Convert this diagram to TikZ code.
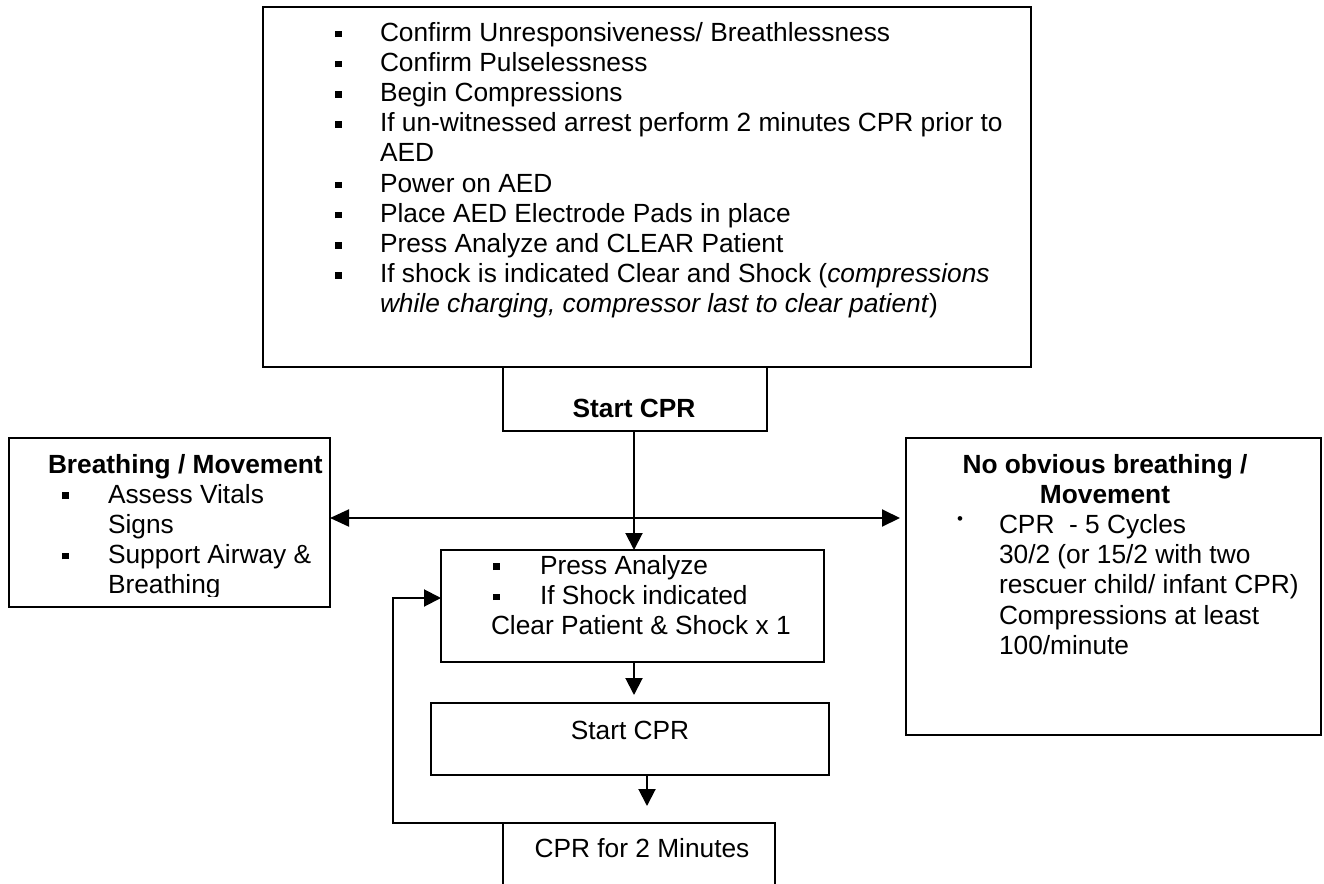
\documentclass[tikz,border=0pt]{standalone}
\usepackage{fontspec}
\setmainfont{Liberation Sans}
\usetikzlibrary{arrows.meta}
\newcommand\fsz{\fontsize{13.15pt}{15.1pt}\selectfont}
\newcommand\sqb[1]{\makebox[#1][l]{\raisebox{2pt}{\rule{3.3pt}{3.3pt}}}}
\newcommand\rdot[1]{\makebox[#1][l]{\raisebox{4.6pt}{\fontsize{8.5pt}{8.5pt}\selectfont\textbullet}}}
\begin{document}
\begin{tikzpicture}[x=0.5pt,y=-0.5pt,
  box/.style={draw, line width=1pt, inner sep=0pt, outer sep=0pt, anchor=north west},
  txt/.style={inner sep=0pt, outer sep=0pt, align=left, font=\fsz},
  arr/.style={line width=1pt, -{Triangle[length=8.5pt,width=8.5pt]}},
  darr/.style={line width=1pt, {Triangle[length=9.5pt,width=8.5pt]}-{Triangle[length=9pt,width=8.5pt]}},
]
\clip (0,0) rectangle (1324,884);
\fill[white] (0,0) rectangle (1324,884);

% boxes
\node[box, line width=1.2pt, minimum width=384pt, minimum height=180pt] (top) at (263,7) {};
\node[box, minimum width=132pt, minimum height=32pt] (startcpr) at (503,367) {};
\node[box, minimum width=160.5pt, minimum height=84.5pt] (breath) at (9,438) {};
\node[box, minimum width=207.5pt, minimum height=148.5pt] (nobreath) at (906,438) {};
\node[box, minimum width=191.5pt, minimum height=56pt] (press) at (441,550) {};
\node[box, minimum width=199pt, minimum height=36pt] (start2) at (431,703) {};
\node[box, minimum width=136pt, minimum height=45pt] (cpr2) at (503,823) {};

% texts
\node[txt, anchor=north west] (toptxt) at (335,20) {\strut\sqb{22.5pt}Confirm Unresponsiveness/ Breathlessness\\
\sqb{22.5pt}Confirm Pulselessness\\
\sqb{22.5pt}Begin Compressions\\
\sqb{22.5pt}If un-witnessed arrest perform 2 minutes CPR prior to\\
\hspace*{22.5pt}AED\\
\sqb{22.5pt}Power on AED\\
\sqb{22.5pt}Place AED Electrode Pads in place\\
\sqb{22.5pt}Press Analyze and CLEAR Patient\\
\sqb{22.5pt}If shock is indicated Clear and Shock (\textit{compressions}\\
\hspace*{22.5pt}\textit{while charging, compressor last to clear patient})};

\node[txt, font=\fsz\bfseries, anchor=base] (startcprtxt) at (634,417) {Start CPR};

\begin{scope}
\clip (9,438) rectangle (330,596);
\node[txt, font=\fsz\bfseries, anchor=base west] (breathtitle) at (48,473) {Breathing / Movement};
\node[txt, anchor=north west] (breathlist) at (62,481.9) {\strut\sqb{23pt}Assess Vitals\\
\hspace*{23pt}Signs\\
\sqb{23pt}Support Airway \&\\
\hspace*{23pt}Breathing};
\end{scope}

\node[txt, font=\fsz\bfseries, align=center, anchor=north] (nobreathtitle) at (1105,451.9) {\strut No obvious breathing /\\ Movement};
\node[txt, anchor=north west] (nobreathlist) at (957,512.3) {\strut\rdot{21pt}CPR\ \ - 5 Cycles\\
\hspace*{21pt}30/2 (or 15/2 with two\\
\hspace*{21pt}rescuer child/ infant CPR)\\
\hspace*{21pt}Compressions at least\\
\hspace*{21pt}100/minute};

\node[txt, anchor=north west] (presstxt) at (491,552.9) {\strut\hspace*{1pt}\sqb{23.5pt}Press Analyze\\
\hspace*{1pt}\sqb{23.5pt}If Shock indicated\\
Clear Patient \& Shock x 1};

\node[txt, anchor=base] (start2txt) at (630,739) {Start CPR};
\node[txt, anchor=base] (cpr2txt) at (642,857) {CPR for 2 Minutes};

% connectors
\draw[arr] ([xshift=-0.5pt]startcpr.south) -- ([xshift=-0.5pt]startcpr.south |- press.north);
\draw[darr] (breath.east |- 0,518) -- ([xshift=-3pt]nobreath.west |- 0,518);
\draw[arr] (press.south -| 634,0) -- ([yshift=4pt]start2.north -| 634,0);
\draw[arr] ([xshift=4pt]cpr2.north |- start2.south) -- ([xshift=4pt,yshift=8.5pt]cpr2.north);
\coordinate (loopc) at (393,823);
\draw[arr] (cpr2.north west) -- (loopc) |- ([yshift=4pt]press.west);
\end{tikzpicture}
\end{document}
